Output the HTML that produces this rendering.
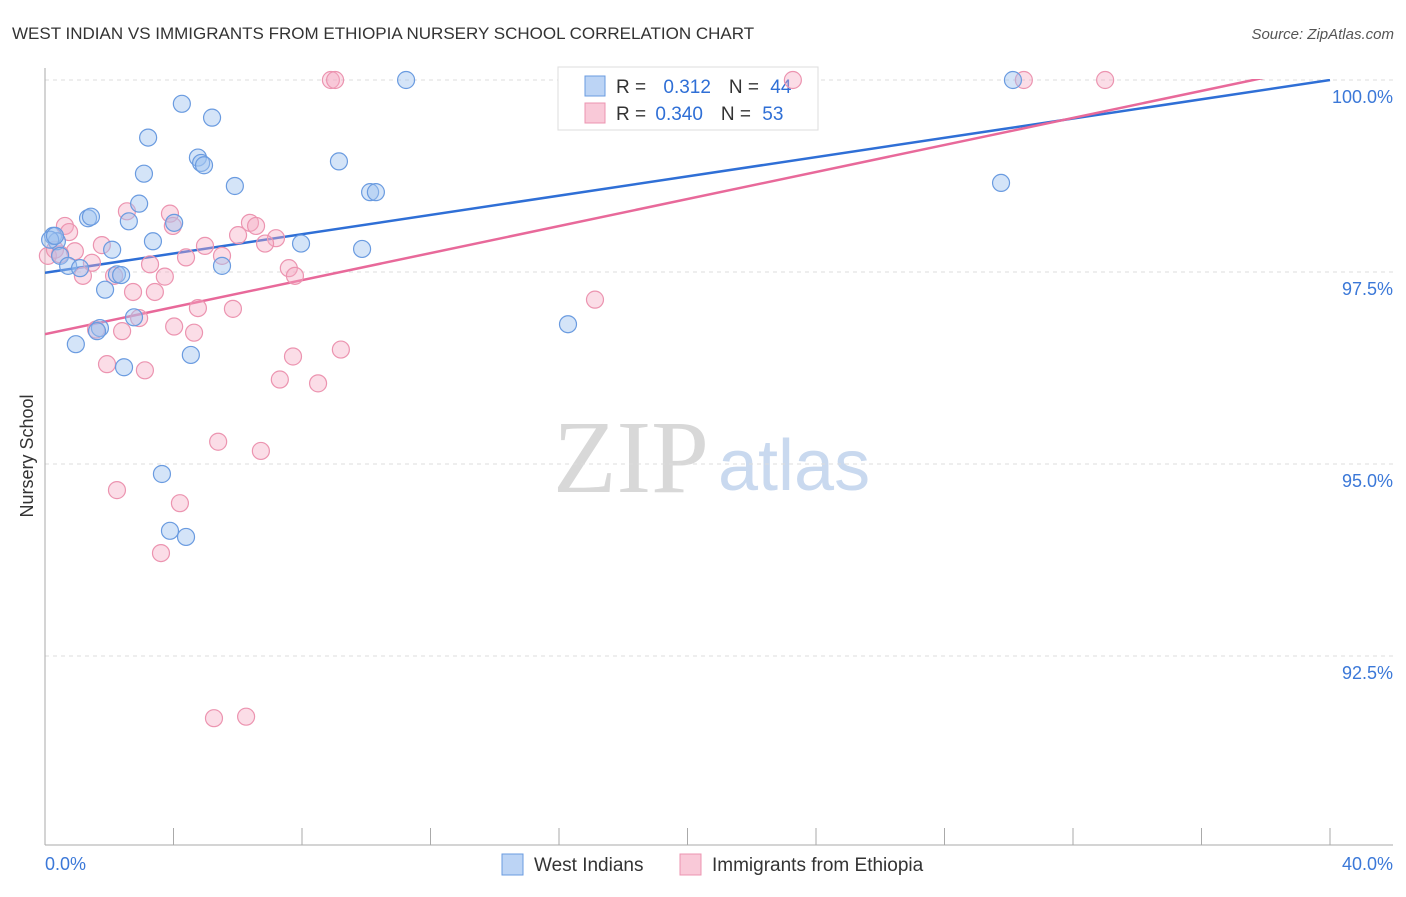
<!DOCTYPE html>
<html><head><meta charset="utf-8"><style>
body{margin:0;background:#fff;font-family:"Liberation Sans",sans-serif;}
</style></head><body>
<svg id="chart" width="1406" height="892" viewBox="0 0 1406 892" style="font-family:'Liberation Sans',sans-serif">
<text x="12" y="39" font-size="17" fill="#333">WEST INDIAN VS IMMIGRANTS FROM ETHIOPIA NURSERY SCHOOL CORRELATION CHART</text>
<text x="1394" y="39" font-size="15" fill="#555" font-style="italic" text-anchor="end">Source: ZipAtlas.com</text>
<text x="33" y="456" font-size="18" fill="#333" text-anchor="middle" transform="rotate(-90 33 456)">Nursery School</text>
<g>
<text x="553" y="492" font-size="104" fill="#d8d8d8" font-family="Liberation Serif,serif">ZIP</text>
<text x="718" y="490" font-size="72" fill="#c9d9ef">atlas</text>
</g>
<g id="grid"></g><g id="axes"></g>
<defs><clipPath id="pc"><rect x="45" y="79" width="1350" height="770"/></clipPath></defs>
<g id="lines" clip-path="url(#pc)"></g>
<g>
<rect x="558" y="67" width="260" height="63" fill="#fff" stroke="#ddd"/>
<rect x="585" y="76" width="20" height="20" fill="#bcd4f5" stroke="#6a9be0"/>
<rect x="585" y="103" width="20" height="20" fill="#f9c9d8" stroke="#ec94b0"/>
<text x="616" y="93" font-size="19" fill="#333">R = <tspan fill="#2f6fd6" dx="12">0.312</tspan><tspan dx="18" fill="#333">N = </tspan><tspan fill="#2f6fd6" dx="6">44</tspan></text>
<text x="616" y="120" font-size="19" fill="#333">R = <tspan fill="#2f6fd6" dx="4">0.340</tspan><tspan dx="18" fill="#333">N = </tspan><tspan fill="#2f6fd6" dx="6">53</tspan></text>
</g>
<g id="points"></g>
<g>
<rect x="502" y="854" width="21" height="21" fill="#bcd4f5" stroke="#6a9be0"/>
<text x="534" y="871" font-size="19" fill="#333">West Indians</text>
<rect x="680" y="854" width="21" height="21" fill="#f9c9d8" stroke="#ec94b0"/>
<text x="712" y="871" font-size="19" fill="#333">Immigrants from Ethiopia</text>
</g>
</svg>
<script>
const blueX=[11.24,30.13,4.26,5.2,3.21,4.76,3.08,4.86,4.95,9.15,5.91,10.12,10.3,29.76,2.93,1.34,1.43,2.61,4.02,0.25,0.37,3.36,7.97,2.09,9.87,0.47,0.72,1.09,5.51,2.24,2.37,1.87,2.77,1.71,1.62,0.96,4.54,2.46,16.28,3.64,3.89,4.39,0.16,0.31];
const blueY=[100,100,99.69,99.51,99.25,98.99,98.78,98.92,98.89,98.94,98.62,98.54,98.54,98.66,98.39,98.2,98.22,98.16,98.14,97.97,97.9,97.9,97.87,97.79,97.8,97.71,97.58,97.55,97.58,97.47,97.46,97.27,96.91,96.77,96.73,96.56,96.42,96.26,96.82,94.87,94.13,94.05,97.92,97.97];
const pinkX=[8.9,9.03,23.28,30.47,33.0,0.62,0.75,2.55,3.89,3.98,6.38,6.57,6.01,7.19,6.85,4.98,1.77,0.93,4.39,5.51,1.46,3.27,7.59,7.78,1.18,2.15,3.73,2.74,3.42,4.76,5.85,2.93,1.59,2.4,4.02,4.64,1.93,3.11,7.72,7.31,8.5,9.21,17.12,5.39,6.72,2.24,4.2,3.61,5.26,6.26,0.09,0.31,0.47];
const pinkY=[100,100,100,100,100,98.1,98.02,98.29,98.26,98.1,98.14,98.1,97.98,97.94,97.87,97.84,97.85,97.77,97.69,97.71,97.62,97.6,97.55,97.45,97.45,97.45,97.44,97.24,97.24,97.03,97.02,96.9,96.75,96.73,96.79,96.71,96.3,96.22,96.4,96.1,96.05,96.49,97.14,95.29,95.17,94.66,94.49,93.84,91.69,91.71,97.71,97.79,97.73];
const yTicks=[100,97.5,95,92.5];
const yTickLabels=["100.0%","97.5%","95.0%","92.5%"];
const xTicks=[0,4,8,12,16,20,24,28,32,36,40];
const blueTrend=[97.49,100.0];
const pinkTrend=[96.69,100.21];
const X=v=>45+v/40*1285, Y=v=>80+(100-v)/2.5*192;
const NS='http://www.w3.org/2000/svg';
function mk(t,a,p){const e=document.createElementNS(NS,t);for(const k in a)e.setAttribute(k,a[k]);p.appendChild(e);return e;}
const grid=document.getElementById('grid'),axes=document.getElementById('axes');
yTicks.forEach((t,i)=>{
 const l=mk('line',{x1:45,x2:1393,y1:Y(t),y2:Y(t),stroke:'#ddd','stroke-dasharray':'4,4'},grid);
 
 
 const tx=mk('text',{x:1393,y:Y(t)+23,'font-size':18,fill:'#3b78d8','text-anchor':'end'},axes);
 tx.textContent=yTickLabels[i];
 
 
});
const ya=mk('line',{x1:45,x2:45,y1:68,y2:845,stroke:'#aaa'},axes);


const xa=mk('line',{x1:45,x2:1393,y1:845,y2:845,stroke:'#aaa'},axes);


xTicks.forEach(t=>{
 const l=mk('line',{x1:X(t),x2:X(t),y1:828,y2:845,stroke:'#aaa'},axes);
 
 
});
[[0,'0.0%','start',45],[40,'40.0%','end',1393]].forEach(d=>{
 const tx=mk('text',{x:d[3],y:870,'font-size':18,fill:'#3b78d8','text-anchor':d[2]},axes);
 tx.textContent=d[1];
 
 
});
const lines=document.getElementById('lines');
const bl=mk('line',{x1:X(0),y1:Y(blueTrend[0]),x2:X(40),y2:Y(blueTrend[1]),stroke:'#2f6fd6','stroke-width':2.5},lines);


const pl=mk('line',{x1:X(0),y1:Y(pinkTrend[0]),x2:X(40),y2:Y(pinkTrend[1]),stroke:'#e8699a','stroke-width':2.5},lines);


const pts=document.getElementById('points');
pinkX.forEach((x,i)=>{
 const c=mk('circle',{cx:X(x),cy:Y(pinkY[i]),r:8.5,fill:'rgba(246,170,195,0.4)',stroke:'#ec94b0','stroke-width':1.2},pts);
 
 
});
blueX.forEach((x,i)=>{
 const c=mk('circle',{cx:X(x),cy:Y(blueY[i]),r:8.5,fill:'rgba(160,195,240,0.45)',stroke:'#6a9be0','stroke-width':1.2},pts);
 
 
});
</script>
</body></html>
